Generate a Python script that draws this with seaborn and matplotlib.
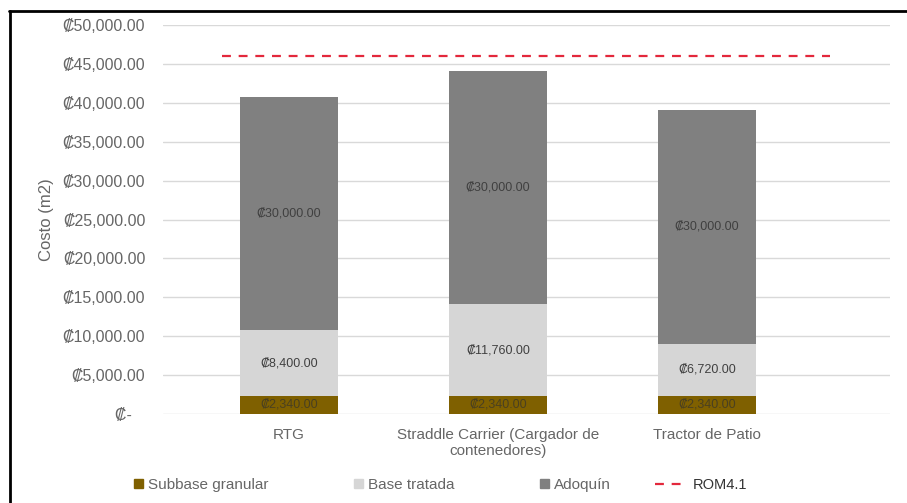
import matplotlib
matplotlib.use("Agg")
import matplotlib.pyplot as plt
from matplotlib.lines import Line2D
from matplotlib.patches import Patch
from matplotlib.ticker import FuncFormatter, MultipleLocator
import numpy as np
import pandas as pd
import seaborn as sns

# Datos (costo por m2, colones)
categorias = ["RTG", "Straddle Carrier (Cargador de\ncontenedores)", "Tractor de Patio"]
subbase_granular = [2340, 2340, 2340]
base_tratada = [8400, 11760, 6720]
adoquin = [30000, 30000, 30000]
rom41 = 46000

col_subbase = "#7F6000"
col_base = "#D6D6D6"
col_adoquin = "#808080"
col_rom = "#E3283C"
col_text = "#666666"


def colones(v, pos=None):
    if v == 0:
        return "\u20a1-   "
    return f"\u20a1{v:,.2f}"


def main():
    sns.set_theme(style="white")
    plt.rcParams["font.family"] = ["Liberation Sans", "DejaVu Sans"]

    df = pd.DataFrame({
        "cat": categorias,
        "sub": subbase_granular,
        "base": base_tratada,
        "adoq": adoquin,
    })
    df["nivel1"] = df["sub"]
    df["nivel2"] = df["sub"] + df["base"]
    df["nivel3"] = df["nivel2"] + df["adoq"]

    fig = plt.figure(figsize=(9.07, 5.03), dpi=100)
    ax = fig.add_axes([0.18, 0.177, 0.801, 0.773])

    # stacked bars: draw totals first, then smaller cumulative levels on top
    for col, c in [("nivel3", col_adoquin), ("nivel2", col_base), ("nivel1", col_subbase)]:
        sns.barplot(data=df, x="cat", y=col, color=c, width=0.47, saturation=1,
                    linewidth=0, edgecolor="none", ax=ax, zorder=3)

    # ROM 4.1 reference line
    ax.hlines(rom41, -0.32, 2.59, colors=col_rom, linestyles=(0, (4, 3.5)),
              linewidth=1.6, zorder=4)

    # data labels
    for i, row in df.iterrows():
        ax.text(i, row["nivel1"] / 2, colones(row["sub"]), ha="center", va="center",
                fontsize=9, color="#4A4020", zorder=5)
        ax.text(i, (row["nivel1"] + row["nivel2"]) / 2, colones(row["base"]),
                ha="center", va="center", fontsize=9, color="#404040", zorder=5)
        ax.text(i, (row["nivel2"] + row["nivel3"]) / 2, colones(row["adoq"]),
                ha="center", va="center", fontsize=9, color="#404040", zorder=5)

    ax.set_ylim(0, 50000)
    ax.set_xlim(-0.603, 2.876)
    ax.yaxis.set_major_locator(MultipleLocator(5000))
    ax.yaxis.set_major_formatter(FuncFormatter(colones))
    ax.grid(axis="y", color="#D9D9D9", linewidth=1, zorder=0)
    ax.set_axisbelow(True)
    for s in ax.spines.values():
        s.set_visible(False)
    ax.tick_params(axis="y", length=0, pad=13, labelsize=11.5, labelcolor=col_text)
    ax.tick_params(axis="x", length=0, pad=10, labelsize=11, labelcolor=col_text)
    ax.set_xlabel("")
    ax.set_ylabel("Costo (m2)", fontsize=12, color=col_text, labelpad=6)

    # legend
    handles = [Patch(color=col_subbase), Patch(color=col_base), Patch(color=col_adoquin)]
    leg1 = fig.legend(handles, ["Subbase granular", "Base tratada", "Adoquín"],
                      loc="center left", bbox_to_anchor=(0.148, 0.036), ncol=3,
                      frameon=False, fontsize=11, handlelength=0.6, handleheight=0.6,
                      handletextpad=0.3, columnspacing=5.6, borderpad=0, borderaxespad=0)
    for t in leg1.get_texts():
        t.set_color(col_text)
    leg2 = fig.legend([Line2D([], [], color=col_rom, linestyle=(0, (4, 3.5)), linewidth=1.6)],
                      ["ROM4.1"], loc="center left", bbox_to_anchor=(0.722, 0.036),
                      frameon=False, fontsize=10.5, handlelength=1.8, handletextpad=0.8,
                      borderpad=0, borderaxespad=0)
    for t in leg2.get_texts():
        t.set_color("#333333")

    # outer frame (left and top edges visible)
    fig.add_artist(Line2D([0.011, 0.011], [0.0, 0.979], color="black", linewidth=2,
                          transform=fig.transFigure))
    fig.add_artist(Line2D([0.010, 1.0], [0.979, 0.979], color="black", linewidth=2,
                          transform=fig.transFigure))

    fig.savefig("out.png", dpi=100)
    plt.close(fig)


if __name__ == "__main__":
    main()
